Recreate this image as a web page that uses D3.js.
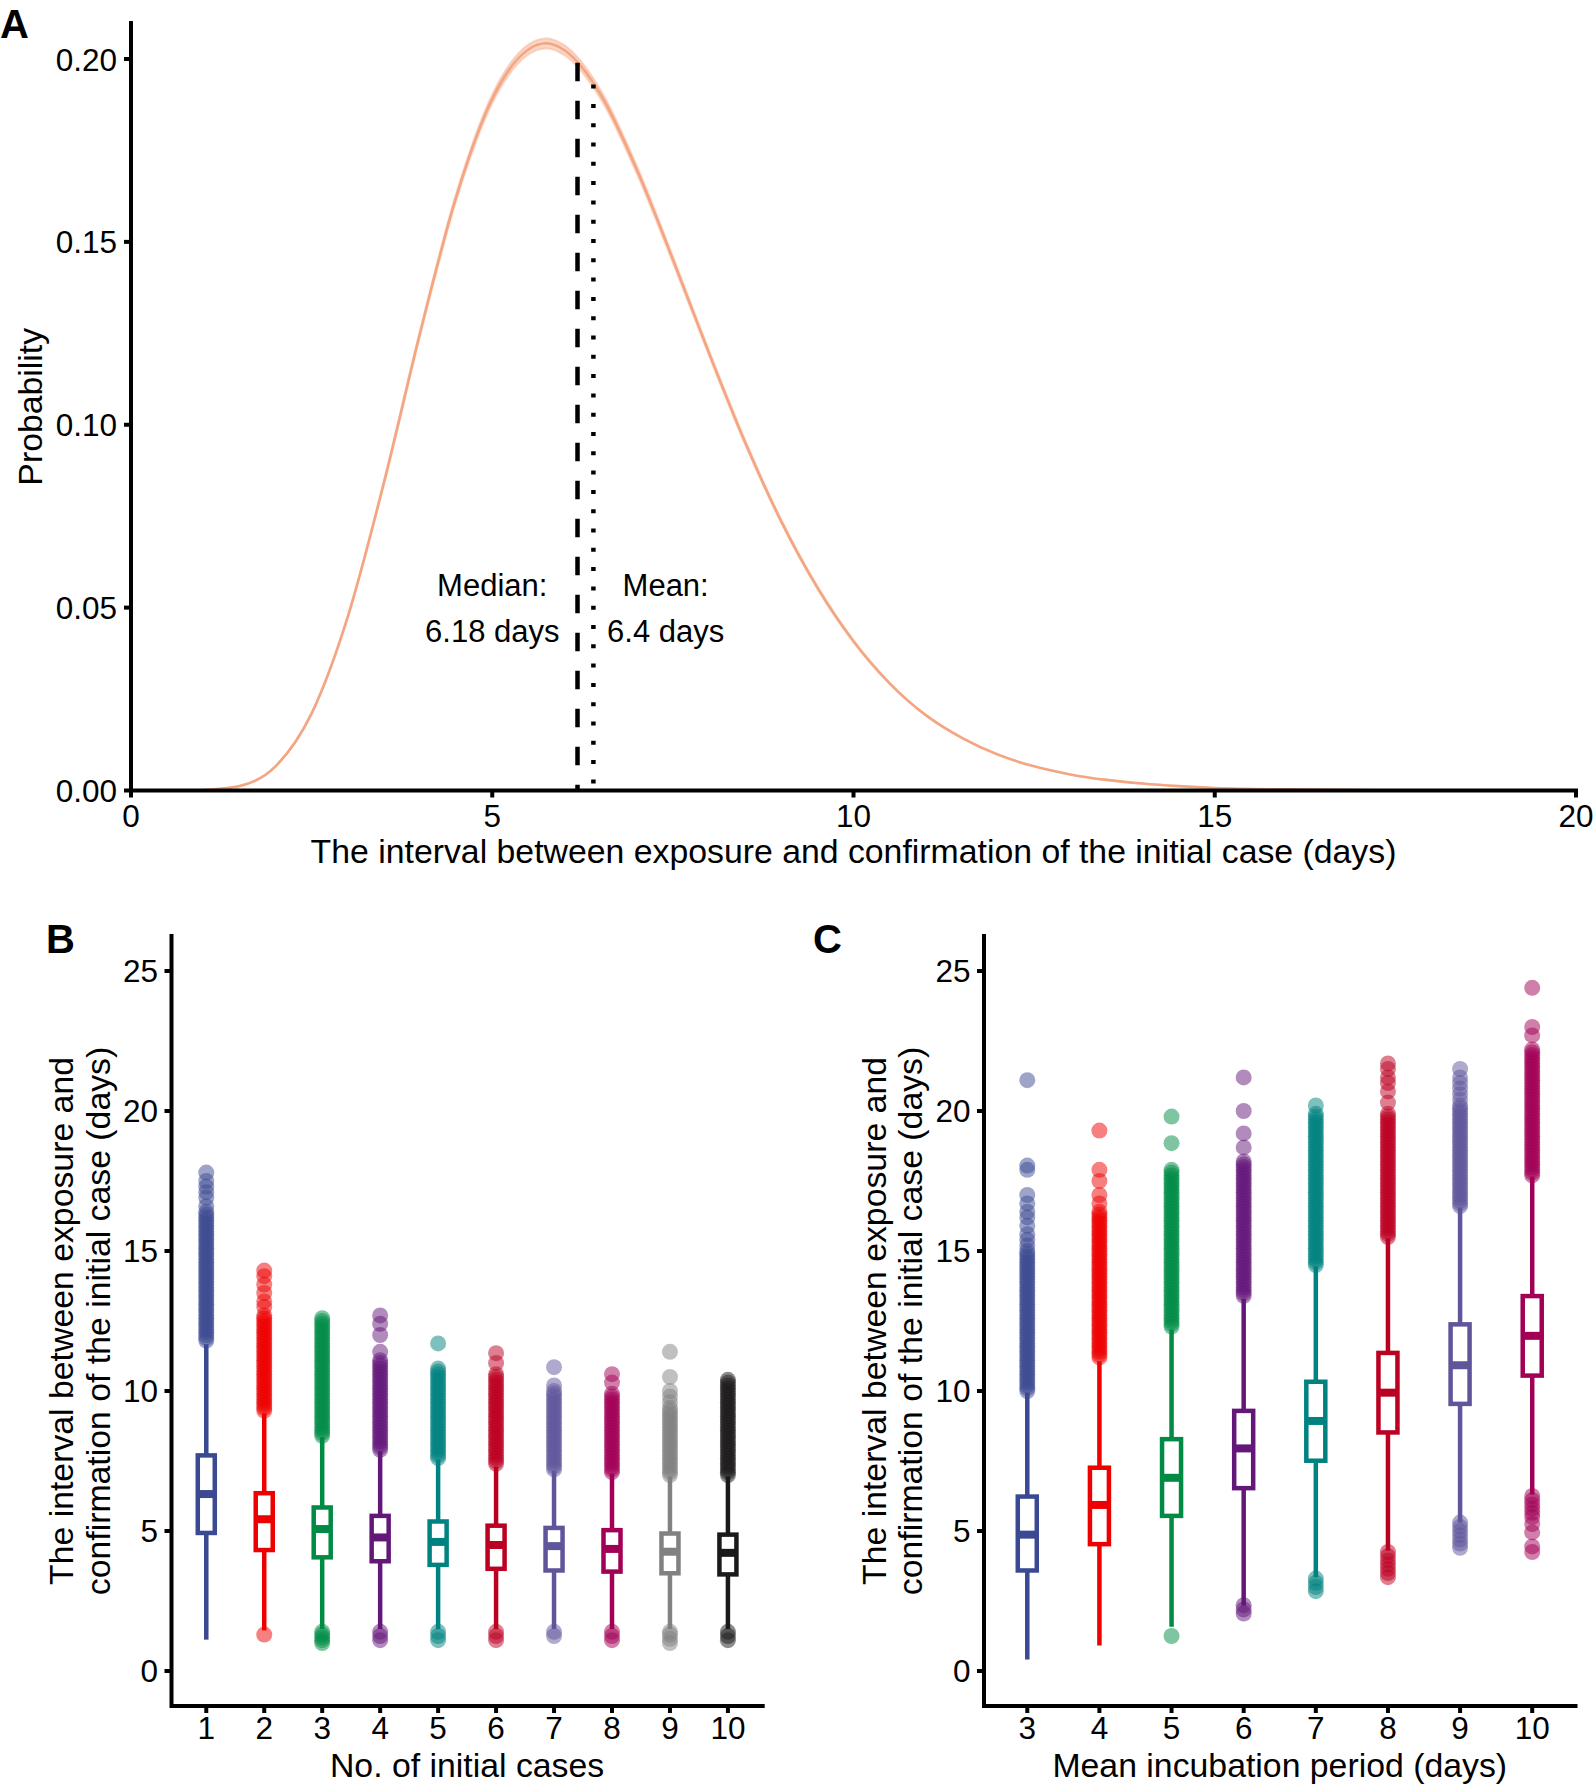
<!DOCTYPE html>
<html><head><meta charset="utf-8">
<script src="https://cdn.jsdelivr.net/npm/d3@7"></script>
<style>
body{margin:0;background:#fff}
svg{display:block}
text{font-family:"Liberation Sans",Arial,Helvetica,sans-serif;fill:#000}
</style>
</head><body>
<svg id="chart" width="1594" height="1789"></svg>
<script>
// ---------- Panel A data (density) ----------
const probX = [1,1.5,2,2.5,3,3.5,4,4.5,5,5.5,5.75,6,6.5,7,7.5,8,8.5,9,9.5,10,10.5,11,11.5,12,12.5,13,13.5,14,14.5,15,16,17,18,20];
const probMean = [0.0001,0.0012,0.0066,0.0211,0.0475,0.0841,0.1250,0.1622,0.1891,0.2026,0.2043,0.2024,0.1903,0.1698,0.1452,0.1196,0.0952,0.0736,0.0555,0.0408,0.0293,0.0206,0.0144,0.0098,0.0066,0.0044,0.0029,0.0019,0.0012,0.0007,0.0003,0.0001,0,0];
const probLower = [0.0001,0.0012,0.0065,0.0209,0.0472,0.0835,0.1241,0.1611,0.1878,0.2012,0.2029,0.2010,0.1890,0.1686,0.1442,0.1188,0.0945,0.0731,0.0551,0.0405,0.0291,0.0205,0.0143,0.0097,0.0066,0.0044,0.0029,0.0019,0.0012,0.0007,0.0003,0.0001,0,0];
const probUpper = [0.0001,0.0012,0.0067,0.0213,0.0478,0.0847,0.1259,0.1633,0.1904,0.2040,0.2057,0.2038,0.1916,0.1710,0.1462,0.1204,0.0959,0.0741,0.0559,0.0411,0.0295,0.0207,0.0145,0.0099,0.0066,0.0044,0.0029,0.0019,0.0012,0.0007,0.0003,0.0001,0,0];
const probXTicks = [0,5,10,15,20];
const probYTicks = [0,0.05,0.10,0.15,0.20];
const summaryLines = [
  {name:"Median", x:6.18, top:0.199, dash:"18.5 19.5", labels:["Median:","6.18 days"], labelX:5.0},
  {name:"Mean",   x:6.4,  top:0.193, dash:"4 15.3",    labels:["Mean:","6.4 days"],   labelX:7.4}
];
const labelY = [0.0532, 0.0406];

// ---------- Panel B data ----------
const caseCategories = ["1","2","3","4","5","6","7","8","9","10"];
const caseQ1 = [4.93,4.32,4.06,3.92,3.79,3.65,3.59,3.55,3.49,3.45];
const caseMedian = [6.32,5.42,5.07,4.77,4.61,4.50,4.46,4.36,4.26,4.22];
const caseQ3 = [7.70,6.35,5.84,5.54,5.34,5.19,5.11,5.03,4.91,4.87];
const caseWhiskerLow = [1.12,1.45,1.5,1.5,1.5,1.5,1.5,1.5,1.5,1.5];
const caseWhiskerHigh = [11.67,9.2,8.35,7.85,7.55,7.3,7.15,7.05,6.95,6.95];
const caseOutliers = [
  [11.8,11.9,12.0,12.1,12.2,12.3,12.4,12.5,12.6,12.7,12.8,12.9,13.0,13.1,13.2,13.3,13.4,13.5,13.6,13.7,13.8,13.9,14.0,14.1,14.2,14.3,14.4,14.5,14.6,14.7,14.8,14.9,15.0,15.1,15.2,15.3,15.4,15.5,15.6,15.7,15.8,15.9,16.0,16.1,16.2,16.3,16.4,16.6,16.9,17.1,17.3,17.5,17.8],
  [1.3,9.3,9.4,9.5,9.6,9.7,9.8,9.9,10.0,10.1,10.2,10.3,10.4,10.5,10.6,10.7,10.8,10.9,11.0,11.1,11.2,11.3,11.4,11.5,11.6,11.7,11.8,11.9,12.0,12.1,12.2,12.3,12.4,12.5,12.6,12.7,13.0,13.2,13.5,13.8,14.1,14.3],
  [1.0,1.1,1.2,1.3,1.4,8.4,8.5,8.6,8.7,8.8,8.9,9.0,9.1,9.2,9.3,9.4,9.5,9.6,9.7,9.8,9.9,10.0,10.1,10.2,10.3,10.4,10.5,10.6,10.7,10.8,10.9,11.0,11.1,11.2,11.3,11.4,11.5,11.6,11.7,11.8,11.9,12.0,12.1,12.2,12.3,12.4,12.5,12.6],
  [1.1,1.25,1.4,7.9,8.0,8.1,8.2,8.3,8.4,8.5,8.6,8.7,8.8,8.9,9.0,9.1,9.2,9.3,9.4,9.5,9.6,9.7,9.8,9.9,10.0,10.1,10.2,10.3,10.4,10.5,10.6,10.7,10.8,10.9,11.0,11.1,11.4,12.0,12.4,12.7],
  [1.1,1.25,1.4,7.6,7.7,7.8,7.9,8.0,8.1,8.2,8.3,8.4,8.5,8.6,8.7,8.8,8.9,9.0,9.1,9.2,9.3,9.4,9.5,9.6,9.7,9.8,9.9,10.0,10.1,10.2,10.3,10.4,10.5,10.6,10.7,10.8,11.7],
  [1.1,1.25,1.4,7.4,7.5,7.6,7.7,7.8,7.9,8.0,8.1,8.2,8.3,8.4,8.5,8.6,8.7,8.8,8.9,9.0,9.1,9.2,9.3,9.4,9.5,9.6,9.7,9.8,9.9,10.0,10.1,10.2,10.3,10.4,10.5,10.6,11.0,11.35],
  [1.25,1.4,7.2,7.3,7.4,7.5,7.6,7.7,7.8,7.9,8.0,8.1,8.2,8.3,8.4,8.5,8.6,8.7,8.8,8.9,9.0,9.1,9.2,9.3,9.4,9.5,9.6,9.7,9.8,9.9,10.0,10.2,10.85],
  [1.1,1.25,1.4,7.1,7.2,7.3,7.4,7.5,7.6,7.7,7.8,7.9,8.0,8.1,8.2,8.3,8.4,8.5,8.6,8.7,8.8,8.9,9.0,9.1,9.2,9.3,9.4,9.5,9.6,9.7,9.8,9.9,10.3,10.6],
  [1.0,1.15,1.3,1.4,7.0,7.1,7.2,7.3,7.4,7.5,7.6,7.7,7.8,7.9,8.0,8.1,8.2,8.3,8.4,8.5,8.6,8.7,8.8,8.9,9.0,9.1,9.2,9.3,9.4,9.6,9.8,10.0,10.5,11.4],
  [1.1,1.25,1.4,7.0,7.1,7.2,7.3,7.4,7.5,7.6,7.7,7.8,7.9,8.0,8.1,8.2,8.3,8.4,8.5,8.6,8.7,8.8,8.9,9.0,9.1,9.2,9.3,9.4,9.5,9.6,9.7,9.8,9.9,10.0,10.1,10.2,10.3,10.4]
];

// ---------- Panel C data ----------
const incubCategories = ["3","4","5","6","7","8","9","10"];
const incubQ1 = [3.59,4.53,5.54,6.53,7.51,8.52,9.54,10.55];
const incubMedian = [4.87,5.93,6.90,7.95,8.93,9.94,10.92,11.97];
const incubQ3 = [6.23,7.26,8.28,9.29,10.33,11.36,12.38,13.39];
const incubWhiskerLow = [0.41,0.91,1.58,2.33,3.35,4.3,5.3,6.3];
const incubWhiskerHigh = [9.94,11.06,12.2,13.3,14.45,15.45,16.55,17.65];
const incubOutliers = [
  [10.0,10.1,10.2,10.3,10.4,10.5,10.6,10.7,10.8,10.9,11.0,11.1,11.2,11.3,11.4,11.5,11.6,11.7,11.8,11.9,12.0,12.1,12.2,12.3,12.4,12.5,12.6,12.7,12.8,12.9,13.0,13.1,13.2,13.3,13.4,13.5,13.6,13.7,13.8,13.9,14.0,14.1,14.2,14.3,14.4,14.5,14.6,14.7,14.8,14.9,15.0,15.2,15.4,15.6,15.9,16.2,16.4,16.7,17.0,17.9,18.05,21.1],
  [11.2,11.3,11.4,11.5,11.6,11.7,11.8,11.9,12.0,12.1,12.2,12.3,12.4,12.5,12.6,12.7,12.8,12.9,13.0,13.1,13.2,13.3,13.4,13.5,13.6,13.7,13.8,13.9,14.0,14.1,14.2,14.3,14.4,14.5,14.6,14.7,14.8,14.9,15.0,15.1,15.2,15.3,15.4,15.5,15.6,15.7,15.8,15.9,16.0,16.1,16.2,16.3,16.4,16.7,17.0,17.5,17.9,19.3],
  [1.25,12.3,12.4,12.5,12.6,12.7,12.8,12.9,13.0,13.1,13.2,13.3,13.4,13.5,13.6,13.7,13.8,13.9,14.0,14.1,14.2,14.3,14.4,14.5,14.6,14.7,14.8,14.9,15.0,15.1,15.2,15.3,15.4,15.5,15.6,15.7,15.8,15.9,16.0,16.1,16.2,16.3,16.4,16.5,16.6,16.7,16.8,16.9,17.0,17.1,17.2,17.3,17.4,17.5,17.6,17.7,17.8,17.9,18.85,19.8],
  [2.05,2.2,2.35,13.4,13.5,13.6,13.7,13.8,13.9,14.0,14.1,14.2,14.3,14.4,14.5,14.6,14.7,14.8,14.9,15.0,15.1,15.2,15.3,15.4,15.5,15.6,15.7,15.8,15.9,16.0,16.1,16.2,16.3,16.4,16.5,16.6,16.7,16.8,16.9,17.0,17.1,17.2,17.3,17.4,17.5,17.6,17.7,17.8,17.9,18.0,18.1,18.2,18.7,19.2,20.0,21.2],
  [2.85,3.0,3.15,3.3,14.5,14.6,14.7,14.8,14.9,15.0,15.1,15.2,15.3,15.4,15.5,15.6,15.7,15.8,15.9,16.0,16.1,16.2,16.3,16.4,16.5,16.6,16.7,16.8,16.9,17.0,17.1,17.2,17.3,17.4,17.5,17.6,17.7,17.8,17.9,18.0,18.1,18.2,18.3,18.4,18.5,18.6,18.7,18.8,18.9,19.0,19.1,19.2,19.3,19.4,19.5,19.6,19.7,19.8,19.9,20.2],
  [3.35,3.5,3.65,3.8,3.95,4.1,4.25,15.5,15.6,15.7,15.8,15.9,16.0,16.1,16.2,16.3,16.4,16.5,16.6,16.7,16.8,16.9,17.0,17.1,17.2,17.3,17.4,17.5,17.6,17.7,17.8,17.9,18.0,18.1,18.2,18.3,18.4,18.5,18.6,18.7,18.8,18.9,19.0,19.1,19.2,19.3,19.4,19.5,19.6,19.7,19.8,19.9,20.3,20.7,21.0,21.2,21.5,21.7],
  [4.4,4.55,4.7,4.85,5.0,5.15,5.3,16.6,16.7,16.8,16.9,17.0,17.1,17.2,17.3,17.4,17.5,17.6,17.7,17.8,17.9,18.0,18.1,18.2,18.3,18.4,18.5,18.6,18.7,18.8,18.9,19.0,19.1,19.2,19.3,19.4,19.5,19.6,19.7,19.8,19.9,20.0,20.1,20.2,20.4,20.6,20.8,21.0,21.2,21.5],
  [4.25,4.45,4.95,5.25,5.5,5.65,5.8,5.95,6.1,6.25,17.7,17.8,17.9,18.0,18.1,18.2,18.3,18.4,18.5,18.6,18.7,18.8,18.9,19.0,19.1,19.2,19.3,19.4,19.5,19.6,19.7,19.8,19.9,20.0,20.1,20.2,20.3,20.4,20.5,20.6,20.7,20.8,20.9,21.0,21.1,21.2,21.3,21.4,21.5,21.6,21.7,21.8,21.9,22.0,22.1,22.2,22.7,23.0,24.4]
];

const boxYTicks = [0,5,10,15,20,25];
const paletteAAAS = ["#3B4992","#EE0000","#008B45","#631879","#008280","#BB0021","#5F559B","#A20056","#808180","#1B1919"];

// ---------- drawing ----------
const svg = d3.select("#chart");
const AXW = 4;          // axis line width
const TICKLEN = 7;
const TICKFONT = "31.5px";
const TITLEFONT = "33.8px";

function axisLines(g, x0, x1, y0, y1) {
  g.append("path").attr("d", `M${x0},${y0}V${y1}H${x1}`)
    .attr("fill","none").attr("stroke","#000").attr("stroke-width",AXW)
    .attr("stroke-linecap","square").attr("stroke-linejoin","miter");
}

// ===== Panel A =====
(function(){
  const x = d3.scaleLinear().domain([0,20]).range([131,1576]);
  const y = d3.scaleLinear().domain([0,0.2]).range([790.5,59]);
  const g = svg.append("g");
  const pts = probX.map((d,i)=>({x:d, m:probMean[i], lo:probLower[i], hi:probUpper[i]}));
  g.append("path").datum(pts)
    .attr("d", d3.area().x(d=>x(d.x)).y0(d=>y(d.lo)).y1(d=>y(d.hi)).curve(d3.curveMonotoneX))
    .attr("fill","#F4A582").attr("fill-opacity",0.45).attr("stroke","#F4A582").attr("stroke-opacity",0.35).attr("stroke-width",2);
  g.append("path").datum(pts)
    .attr("d", d3.line().x(d=>x(d.x)).y(d=>y(d.m)).curve(d3.curveMonotoneX))
    .attr("fill","none").attr("stroke","#F4A582").attr("stroke-width",2.6);

  summaryLines.forEach(s=>{
    g.append("line").attr("x1",x(s.x)).attr("x2",x(s.x)).attr("y1",y(s.top)).attr("y2",y(0))
      .attr("stroke","#000").attr("stroke-width",4.5).attr("stroke-dasharray",s.dash);
    s.labels.forEach((t,i)=>{
      g.append("text").attr("x",x(s.labelX)).attr("y",y(labelY[i])).attr("text-anchor","middle")
        .style("font-size","31px").text(t);
    });
  });

  axisLines(g, x(0), x(20), 23, y(0));
  probYTicks.forEach(t=>{
    g.append("line").attr("x1",x(0)-TICKLEN).attr("x2",x(0)).attr("y1",y(t)).attr("y2",y(t)).attr("stroke","#000").attr("stroke-width",AXW);
    g.append("text").attr("x",117).attr("y",y(t)+11.5).attr("text-anchor","end").style("font-size",TICKFONT).text(d3.format(".2f")(t));
  });
  probXTicks.forEach(t=>{
    g.append("line").attr("x1",x(t)).attr("x2",x(t)).attr("y1",y(0)).attr("y2",y(0)+TICKLEN).attr("stroke","#000").attr("stroke-width",AXW);
    g.append("text").attr("x",x(t)).attr("y",827).attr("text-anchor","middle").style("font-size",TICKFONT).text(t);
  });
  g.append("text").attr("x",(x(0)+x(20))/2).attr("y",863).attr("text-anchor","middle").style("font-size",TITLEFONT)
    .text("The interval between exposure and confirmation of the initial case (days)");
  g.append("text").attr("transform",`translate(42,${(23+790.5)/2}) rotate(-90)`).attr("text-anchor","middle").style("font-size",TITLEFONT).text("Probability");
  g.append("text").attr("x",0).attr("y",38).style("font-size","40px").style("font-weight","bold").text("A");
})();

// ===== Box panels =====
function boxPanel(opt){
  const g = svg.append("g");
  const x = d3.scalePoint().domain(opt.cats).range([opt.x0, opt.x1]).padding(0.6);
  const y = d3.scaleLinear().domain([-1.25,26.25]).range([1706,936]);
  const w = opt.boxW;
  opt.cats.forEach((c,i)=>{
    const cx = x(c), col = paletteAAAS[i];
    opt.outliers[i].forEach(v=>{
      g.append("circle").attr("cx",cx).attr("cy",y(v)).attr("r",8).attr("fill",col).attr("fill-opacity",0.5);
    });
  });
  opt.cats.forEach((c,i)=>{
    const cx = x(c), col = paletteAAAS[i];
    g.append("line").attr("x1",cx).attr("x2",cx).attr("y1",y(opt.lo[i])).attr("y2",y(opt.q1[i])).attr("stroke",col).attr("stroke-width",4.5);
    g.append("line").attr("x1",cx).attr("x2",cx).attr("y1",y(opt.q3[i])).attr("y2",y(opt.hi[i])).attr("stroke",col).attr("stroke-width",4.5);
    g.append("rect").attr("x",cx-w/2).attr("width",w).attr("y",y(opt.q3[i])).attr("height",y(opt.q1[i])-y(opt.q3[i]))
      .attr("fill","#fff").attr("stroke",col).attr("stroke-width",4.5);
    g.append("line").attr("x1",cx-w/2).attr("x2",cx+w/2).attr("y1",y(opt.med[i])).attr("y2",y(opt.med[i])).attr("stroke",col).attr("stroke-width",8);
  });
  axisLines(g, opt.x0, opt.x1, 936, 1706);
  boxYTicks.forEach(t=>{
    g.append("line").attr("x1",opt.x0-TICKLEN).attr("x2",opt.x0).attr("y1",y(t)).attr("y2",y(t)).attr("stroke","#000").attr("stroke-width",AXW);
    g.append("text").attr("x",opt.x0-13.5).attr("y",y(t)+11.3).attr("text-anchor","end").style("font-size",TICKFONT).text(t);
  });
  opt.cats.forEach(c=>{
    g.append("line").attr("x1",x(c)).attr("x2",x(c)).attr("y1",1706).attr("y2",1706+TICKLEN).attr("stroke","#000").attr("stroke-width",AXW);
    g.append("text").attr("x",x(c)).attr("y",1739).attr("text-anchor","middle").style("font-size",TICKFONT).text(c);
  });
  g.append("text").attr("x",(opt.x0+opt.x1)/2).attr("y",1777).attr("text-anchor","middle").style("font-size",TITLEFONT).text(opt.xTitle);
  const cy = (936+1706)/2;
  g.append("text").attr("transform",`translate(${opt.x0-98.5},${cy}) rotate(-90)`).attr("text-anchor","middle").style("font-size",TITLEFONT).text("The interval between exposure and");
  g.append("text").attr("transform",`translate(${opt.x0-62},${cy}) rotate(-90)`).attr("text-anchor","middle").style("font-size",TITLEFONT).text("confirmation of the initial case (days)");
  g.append("text").attr("x",opt.letterX).attr("y",953).style("font-size","40px").style("font-weight","bold").text(opt.letter);
}

boxPanel({cats:caseCategories, q1:caseQ1, med:caseMedian, q3:caseQ3, lo:caseWhiskerLow, hi:caseWhiskerHigh,
  outliers:caseOutliers, x0:171.5, x1:762.7, boxW:17, xTitle:"No. of initial cases", letter:"B", letterX:46});
boxPanel({cats:incubCategories, q1:incubQ1, med:incubMedian, q3:incubQ3, lo:incubWhiskerLow, hi:incubWhiskerHigh,
  outliers:incubOutliers, x0:984, x1:1575.5, boxW:19, xTitle:"Mean incubation period (days)", letter:"C", letterX:813});
</script>
</body></html>
